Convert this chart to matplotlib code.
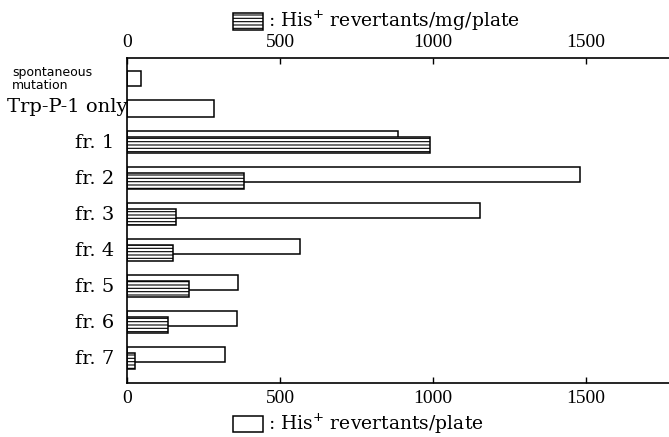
import numpy as np
import matplotlib.pyplot as plt
import matplotlib.transforms as mtransforms
from matplotlib.patches import Rectangle

# data
labels = ["spontaneous\nmutation", "Trp-P-1 only",
          "fr. 1", "fr. 2", "fr. 3", "fr. 4", "fr. 5", "fr. 6", "fr. 7"]
per_plate = [45, 285, 886, 1480, 1154, 565, 362, 360, 321]        # white bars
per_mg_plate = [990, 382, 160, 150, 202, 134, 27]                 # hatched bars (fr. 1-7)
xticks = [0, 500, 1000, 1500]

plt.rcParams['font.family'] = ['Liberation Serif', 'DejaVu Serif']
plt.rcParams['hatch.linewidth'] = 0.8

W, H = 669, 437
fig = plt.figure(figsize=(W / 100, H / 100), dpi=100)
ax = fig.add_axes([127 / W, (H - 383) / H, (W - 127) / W, (383 - 58) / H])

# row layout (units of one row spacing)
ctrl_pos = [0.57, 1.40]
fr_white = 2.24 + np.arange(7)
fr_hatch = 2.42 + np.arange(7)
label_pos = [0.58, 1.36] + list(2.36 + np.arange(7))

ax.barh(ctrl_pos, per_plate[:2], height=[0.42, 0.46], color='white',
        edgecolor='black', linewidth=1.1)
ax.barh(fr_white, per_plate[2:], height=0.43, color='white',
        edgecolor='black', linewidth=1.1)
ax.barh(fr_hatch, per_mg_plate, height=0.45, color='white',
        edgecolor='black', linewidth=1.1, hatch='-----')

ax.set_xlim(0, 1771)
ax.set_ylim(9.03, 0)
ax.set_xticks(xticks)
ax.set_yticks([])

# row labels
trans = mtransforms.blended_transform_factory(fig.transFigure, ax.transData)
for lab, y in zip(labels, label_pos):
    if lab.startswith("spont"):
        ax.text(12 / W, y, lab, transform=trans, ha='left', va='center',
                family='DejaVu Sans', fontsize=9, linespacing=1.0)
    elif lab.startswith("Trp"):
        ax.text(127 / W, y, lab, transform=trans, ha='right', va='center',
                family='DejaVu Serif', fontsize=14)
    else:
        ax.text(114 / W, y, lab, transform=trans, ha='right', va='center',
                family='DejaVu Serif', fontsize=14)

ax.tick_params(axis='x', direction='in', length=4, width=1,
               top=True, labeltop=True, pad=5)
for tick in ax.xaxis.get_major_ticks():
    tick.label1.set_fontsize(14)
    tick.label2.set_fontsize(14)
ax.spines['right'].set_visible(False)
for s in ['left', 'top', 'bottom']:
    ax.spines[s].set_linewidth(1.2)

# key boxes with captions
fig.patches.append(Rectangle((233 / W, 1 - 30 / H), 30 / W, 17 / H,
                             transform=fig.transFigure, facecolor='white',
                             edgecolor='black', linewidth=1.1, hatch='-----'))
fig.text(268 / W, 1 - 21 / H, r": His$^{+}$ revertants/mg/plate",
         family='DejaVu Serif', fontsize=13.5, va='center', ha='left')
fig.patches.append(Rectangle((233 / W, 1 - 432 / H), 30 / W, 16 / H,
                             transform=fig.transFigure, facecolor='white',
                             edgecolor='black', linewidth=1.1))
fig.text(268 / W, 1 - 424 / H, r": His$^{+}$ revertants/plate",
         family='DejaVu Serif', fontsize=13.5, va='center', ha='left')

fig.savefig("out.png", dpi=100)
